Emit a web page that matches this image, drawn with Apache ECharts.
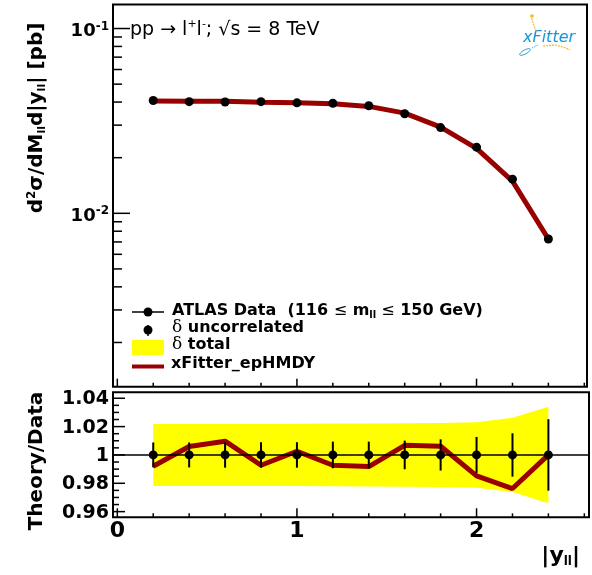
<!DOCTYPE html>
<html>
<head>
<meta charset="utf-8">
<script src="https://cdn.jsdelivr.net/npm/echarts@6/dist/echarts.min.js"></script>
<style>
  html, body { margin: 0; padding: 0; background: #fff; }
  #chart { width: 592px; height: 575px; }
</style>
</head>
<body>
<div id="chart"></div>
<script>
// |y_ll| bin centres
const yll = [0.2, 0.4, 0.6, 0.8, 1.0, 1.2, 1.4, 1.6, 1.8, 2.0, 2.2, 2.4];
// ATLAS data, d2sigma/dM dy [pb], 116 < m_ll < 150 GeV
const xsec = [0.0408, 0.0402, 0.0400, 0.0402, 0.0396, 0.0394, 0.0382, 0.0346, 0.0291, 0.0228, 0.0153, 0.00726];
// xFitter_epHMDY / data
const ratio = [0.992, 1.006, 1.0097, 0.9927, 1.0026, 0.9927, 0.9918, 1.0068, 1.0061, 0.9852, 0.9763, 1.0];
// relative uncertainties
const errUncor = [0.0088, 0.0088, 0.009, 0.009, 0.009, 0.0094, 0.0094, 0.0101, 0.011, 0.0127, 0.0153, 0.0252];
const errTotal = [0.0219, 0.0219, 0.0219, 0.0219, 0.022, 0.0221, 0.0222, 0.0224, 0.0226, 0.0231, 0.0262, 0.034];

// ticks
const xMajor = [0, 1, 2];
const xLabels = ['0', '1', '2'];
const xMinor = [0.2, 0.4, 0.6, 0.8, 1.2, 1.4, 1.6, 1.8, 2.2, 2.4, 2.6];
const topMajor = [0.01, 0.1];
const topLabels = ['{a|10}{b|-2}', '{a|10}{b|-1}'];
const topMinor = [0.002, 0.003, 0.004, 0.005, 0.006, 0.007, 0.008, 0.009,
                  0.02, 0.03, 0.04, 0.05, 0.06, 0.07, 0.08, 0.09];
const ratioMajor = [0.96, 0.98, 1, 1.02, 1.04];
const ratioLabels = ['0.96', '0.98', '1', '1.02', '1.04'];
const ratioMinor = [0.965, 0.97, 0.975, 0.985, 0.99, 0.995, 1.005, 1.01, 1.015, 1.025, 1.03, 1.035];

const FONT = "'DejaVu Sans', sans-serif";
const RED = '#990000';

const topX = [-0.024, 2.615];
const topY = [0.0011527, 0.13489];
const ratX = [-0.024, 2.626];
const ratY = [0.956, 1.0442];

const chart = echarts.init(document.getElementById('chart'));

const hiddenAxis = {
  axisLine: { show: false }, axisTick: { show: false },
  axisLabel: { show: false }, splitLine: { show: false }
};

// ticks drawn along the bottom edge of a grid
function xTicks(gi, yRef, majLen, minLen, withLabels) {
  const data = xMajor.map(v => [v, yRef, 1]).concat(xMinor.map(v => [v, yRef, 0]));
  return {
    type: 'custom', xAxisIndex: gi, yAxisIndex: gi, silent: true, clip: false, z: 10,
    data: data, encode: { x: 0, y: 1 },
    renderItem: function (params, api) {
      const cs = params.coordSys;
      const x = api.coord([api.value(0), api.value(1)])[0];
      const major = api.value(2) === 1;
      const bottom = cs.y + cs.height;
      const children = [{
        type: 'line',
        shape: { x1: x, y1: bottom, x2: x, y2: bottom - (major ? majLen : minLen) },
        style: { stroke: '#000', lineWidth: 1.5 }
      }];
      if (major && withLabels) {
        children.push({
          type: 'text', x: x, y: bottom + 14,
          style: { text: xLabels[params.dataIndex], font: 'bold 22px ' + FONT, fill: '#000',
                   align: 'center', verticalAlign: 'middle' }
        });
      }
      return { type: 'group', children: children };
    }
  };
}

// ticks drawn along the left edge of a grid
function yTicks(gi, xRef, major, minor, labels, majLen, minLen, labelStyle, dy) {
  const data = major.map(v => [xRef, v, 1]).concat(minor.map(v => [xRef, v, 0]));
  return {
    type: 'custom', xAxisIndex: gi, yAxisIndex: gi, silent: true, clip: false, z: 10,
    data: data, encode: { x: 0, y: 1 },
    renderItem: function (params, api) {
      const cs = params.coordSys;
      const y = api.coord([api.value(0), api.value(1)])[1];
      const isMajor = api.value(2) === 1;
      const children = [{
        type: 'line',
        shape: { x1: cs.x, y1: y, x2: cs.x + (isMajor ? majLen : minLen), y2: y },
        style: { stroke: '#000', lineWidth: 1.5 }
      }];
      if (isMajor) {
        children.push({
          type: 'text', x: cs.x - 4, y: y + dy,
          style: Object.assign({ text: labels[params.dataIndex], fill: '#000',
                                 align: 'right', verticalAlign: 'middle' }, labelStyle)
        });
      }
      return { type: 'group', children: children };
    }
  };
}

const option = {
  animation: false,
  backgroundColor: '#fff',
  grid: [
    { left: 113, top: 4.5, width: 474, height: 382.2, show: true, borderColor: '#000', borderWidth: 2 },
    { left: 113, top: 392.3, width: 476, height: 125, show: true, borderColor: '#000', borderWidth: 2 }
  ],
  xAxis: [
    Object.assign({ type: 'value', gridIndex: 0, min: topX[0], max: topX[1] }, hiddenAxis),
    Object.assign({ type: 'value', gridIndex: 1, min: ratX[0], max: ratX[1] }, hiddenAxis)
  ],
  yAxis: [
    Object.assign({ type: 'log', logBase: 10, gridIndex: 0, min: topY[0], max: topY[1] }, hiddenAxis),
    Object.assign({ type: 'value', gridIndex: 1, min: ratY[0], max: ratY[1] }, hiddenAxis)
  ],
  series: [
    {
      name: 'xFitter_epHMDY', type: 'line', xAxisIndex: 0, yAxisIndex: 0, z: 2,
      data: yll.map((x, i) => [x, xsec[i] * ratio[i]]),
      showSymbol: false, symbol: 'none',
      lineStyle: { color: RED, width: 5 }
    },
    {
      name: 'ATLAS Data', type: 'scatter', xAxisIndex: 0, yAxisIndex: 0, z: 3,
      data: yll.map((x, i) => [x, xsec[i]]),
      symbolSize: 9, itemStyle: { color: '#000', opacity: 1 }
    },
    {
      // total uncertainty band: one polygon through all bins
      name: 'δ total', type: 'custom', xAxisIndex: 1, yAxisIndex: 1, z: 1, silent: true,
      data: yll.map((x, i) => [x, 1 + errTotal[i], 1 - errTotal[i]]), encode: { x: 0, y: [1, 2] },
      renderItem: function (params, api) {
        if (params.dataIndex !== 0) return null;
        const upper = yll.map((x, i) => api.coord([x, 1 + errTotal[i]]));
        const lower = yll.map((x, i) => api.coord([x, 1 - errTotal[i]])).reverse();
        return { type: 'polygon', shape: { points: upper.concat(lower) }, style: { fill: '#ffff00' } };
      }
    },
    {
      name: 'unity', type: 'line', xAxisIndex: 1, yAxisIndex: 1, z: 2,
      data: [], symbol: 'none',
      markLine: {
        silent: true, symbol: 'none', label: { show: false },
        lineStyle: { color: '#000', width: 1.5, type: 'solid' },
        data: [{ yAxis: 1 }]
      }
    },
    {
      name: 'ratio', type: 'line', xAxisIndex: 1, yAxisIndex: 1, z: 3,
      data: yll.map((x, i) => [x, ratio[i]]),
      symbol: 'none', lineStyle: { color: RED, width: 5 }
    },
    {
      name: 'δ uncorrelated', type: 'custom', xAxisIndex: 1, yAxisIndex: 1, z: 4,
      data: yll.map((x, i) => [x, 1, errUncor[i]]), encode: { x: 0, y: 1 },
      renderItem: function (params, api) {
        const x = api.value(0), y = api.value(1), e = api.value(2);
        const p1 = api.coord([x, y - e]), p2 = api.coord([x, y + e]);
        return { type: 'line', shape: { x1: p1[0], y1: p1[1], x2: p2[0], y2: p2[1] },
                 style: { stroke: '#000', lineWidth: 2 } };
      }
    },
    {
      name: 'dataRatio', type: 'scatter', xAxisIndex: 1, yAxisIndex: 1, z: 5,
      data: yll.map(x => [x, 1]), symbolSize: 9, itemStyle: { color: '#000', opacity: 1 }
    },
    xTicks(0, topY[0], 8, 4, false),
    xTicks(1, ratY[0], 9, 4, true),
    yTicks(0, topX[0], topMajor, topMinor, topLabels, 17, 9, {
      rich: {
        a: { fontFamily: FONT, fontWeight: 'bold', fontSize: 18, lineHeight: 20, verticalAlign: 'bottom' },
        b: { fontFamily: FONT, fontWeight: 'bold', fontSize: 12, lineHeight: 12, verticalAlign: 'top' }
      }
    }, 2),
    yTicks(1, ratX[0], ratioMajor, ratioMinor, ratioLabels, 12, 6, { font: 'bold 19px ' + FONT }, 1)
  ],
  graphic: [
    // axis titles
    {
      type: 'text', x: 37, y: 118, rotation: Math.PI / 2,
      style: {
        text: '{b|d}{p|2}{b|σ/dM}{s|ll}{b|d|y}{s|ll}{b|| [pb]}',
        align: 'center', verticalAlign: 'middle',
        rich: {
          b: { fontFamily: FONT, fontWeight: 'bold', fontSize: 20, lineHeight: 22 },
          p: { fontFamily: FONT, fontWeight: 'bold', fontSize: 12, lineHeight: 12, verticalAlign: 'top' },
          s: { fontFamily: FONT, fontWeight: 'bold', fontSize: 11, lineHeight: 11, verticalAlign: 'bottom' }
        }
      }
    },
    {
      type: 'text', x: 37, y: 461, rotation: Math.PI / 2,
      style: { text: 'Theory/Data', font: 'bold 20px ' + FONT, fill: '#000', align: 'center', verticalAlign: 'middle' }
    },
    {
      type: 'text', x: 580, y: 556,
      style: {
        text: '{b||y}{s|ll}{b||}', align: 'right', verticalAlign: 'middle',
        rich: {
          b: { fontFamily: FONT, fontWeight: 'bold', fontSize: 22, lineHeight: 24 },
          s: { fontFamily: FONT, fontWeight: 'bold', fontSize: 12, lineHeight: 12, verticalAlign: 'bottom' }
        }
      }
    },
    // process label
    {
      type: 'text', x: 130, y: 30,
      style: {
        text: '{n|pp → l}{p|+}{n|l}{p|-}{n|; √s = 8 TeV}', align: 'left', verticalAlign: 'middle',
        rich: {
          n: { fontFamily: FONT, fontSize: 19, lineHeight: 22 },
          p: { fontFamily: FONT, fontSize: 11, lineHeight: 11, verticalAlign: 'top' }
        }
      }
    },
    // xFitter logo
    {
      type: 'group', children: [
        { type: 'text', x: 523, y: 38,
          style: { text: 'xFitter', font: 'italic 16px ' + FONT, fill: '#1a95d6', verticalAlign: 'middle' } },
        { type: 'polyline', shape: { points: [[531, 15], [533, 23], [536, 31]] },
          style: { stroke: '#f6bd16', lineWidth: 1.2, lineDash: [2, 1] } },
        { type: 'circle', shape: { cx: 532, cy: 16, r: 1.8 }, style: { fill: '#f6bd16' } },
        { type: 'polyline', shape: { points: [[543, 46], [556, 45], [566, 48], [570, 50]] },
          style: { stroke: '#f6bd16', lineWidth: 1.2, lineDash: [2, 1] } },
        { type: 'ellipse', shape: { cx: 525, cy: 52, rx: 6, ry: 2 }, rotation: 0.5, originX: 525, originY: 52,
          style: { fill: 'none', stroke: '#1a95d6', lineWidth: 0.8 } },
        { type: 'line', shape: { x1: 532, y1: 48, x2: 538, y2: 45 },
          style: { stroke: '#1a95d6', lineWidth: 1, lineDash: [1, 1] } }
      ]
    },
    // legend
    { type: 'line', shape: { x1: 132, y1: 312, x2: 164, y2: 312 }, style: { stroke: '#000', lineWidth: 1.5 } },
    { type: 'circle', shape: { cx: 148, cy: 312, r: 4.5 }, style: { fill: '#000' } },
    {
      type: 'text', x: 172, y: 311,
      style: {
        text: '{b|ATLAS Data  (116 }{r|≤}{b| m}{s|ll}{r| ≤}{b| 150 GeV)}', verticalAlign: 'middle',
        rich: {
          b: { fontFamily: FONT, fontWeight: 'bold', fontSize: 16, lineHeight: 18 },
          r: { fontFamily: FONT, fontSize: 16, lineHeight: 18 },
          s: { fontFamily: FONT, fontWeight: 'bold', fontSize: 10, lineHeight: 10, verticalAlign: 'bottom' }
        }
      }
    },
    { type: 'line', shape: { x1: 148, y1: 325, x2: 148, y2: 336 }, style: { stroke: '#000', lineWidth: 1.5 } },
    { type: 'circle', shape: { cx: 148, cy: 330, r: 4.5 }, style: { fill: '#000' } },
    {
      type: 'text', x: 172, y: 328,
      style: {
        text: '{d|δ}{b| uncorrelated}', verticalAlign: 'middle',
        rich: {
          d: { fontFamily: "'DejaVu Serif', serif", fontSize: 17, lineHeight: 18 },
          b: { fontFamily: FONT, fontWeight: 'bold', fontSize: 16, lineHeight: 18 }
        }
      }
    },
    { type: 'rect', shape: { x: 132, y: 340, width: 32, height: 15 }, style: { fill: '#ffff00' } },
    {
      type: 'text', x: 172, y: 345,
      style: {
        text: '{d|δ}{b| total}', verticalAlign: 'middle',
        rich: {
          d: { fontFamily: "'DejaVu Serif', serif", fontSize: 17, lineHeight: 18 },
          b: { fontFamily: FONT, fontWeight: 'bold', fontSize: 16, lineHeight: 18 }
        }
      }
    },
    { type: 'line', shape: { x1: 132, y1: 366.5, x2: 164, y2: 366.5 }, style: { stroke: RED, lineWidth: 4 } },
    {
      type: 'text', x: 171, y: 364,
      style: { text: 'xFitter_epHMDY', font: 'bold 16px ' + FONT, fill: '#000', verticalAlign: 'middle' }
    }
  ]
};

chart.setOption(option);
</script>
</body>
</html>
